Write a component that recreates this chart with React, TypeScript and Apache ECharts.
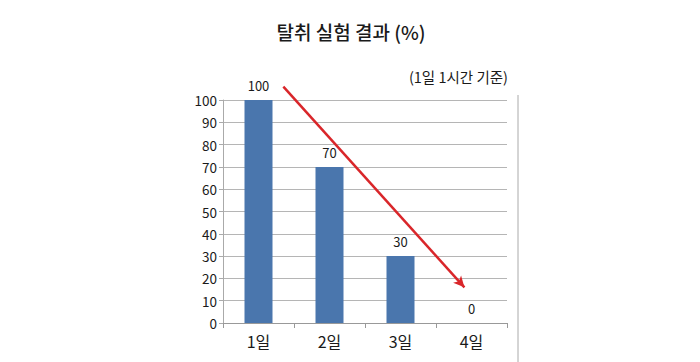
import React, { useEffect, useRef } from "react";
import * as echarts from "echarts";

const categories = ["1일", "2일", "3일", "4일"];
const values = [100, 70, 30, 0];
const yTicks = { min: 0, max: 100, interval: 10 };
const arrowStart = [0.85, 106];
const arrowEnd = [3.4, 16];
const title = "탈취 실험 결과 (%)";
const subtitle = "(1일 1시간 기준)";

const FONT = "'Noto Sans CJK KR', 'Noto Sans', sans-serif";
const RED = "#d9262a";

export default function App() {
  const ref = useRef<HTMLDivElement>(null);
  useEffect(() => {
    const chart = echarts.init(ref.current!, null, { renderer: "svg" });
    const grid = { left: 223, top: 100, right: 193, bottom: 39 };
    chart.setOption({
      animation: false,
      backgroundColor: "#ffffff",
      textStyle: { fontFamily: FONT },
      title: [
        {
          text: title,
          left: 346,
          top: 17,
          textAlign: "center",
          textStyle: { fontSize: 19, fontWeight: 500, color: "#1a1a1a", fontFamily: FONT },
        },
        {
          text: subtitle,
          right: 187,
          top: 64,
          textStyle: { fontSize: 14.5, fontWeight: 400, color: "#1a1a1a", fontFamily: FONT },
        },
      ],
      grid,
      xAxis: [
        {
          type: "category",
          data: categories,
          axisLine: { lineStyle: { color: "#999", width: 1 } },
          axisTick: { show: true, alignWithLabel: false, length: 5, lineStyle: { color: "#999" } },
          axisLabel: { fontSize: 16, color: "#1a1a1a", margin: 10, fontFamily: FONT },
        },
        {
          type: "value",
          min: 0,
          max: 4,
          show: false,
        },
      ],
      yAxis: {
        type: "value",
        min: yTicks.min,
        max: yTicks.max,
        interval: yTicks.interval,
        axisLine: { show: true, lineStyle: { color: "#aaa" } },
        axisTick: { show: true, length: 4, lineStyle: { color: "#aaa" } },
        axisLabel: { fontSize: 13.5, color: "#1a1a1a", margin: 6, fontFamily: FONT },
        splitLine: { lineStyle: { color: "#b5b5b5", width: 1 } },
      },
      series: [
        {
          type: "bar",
          data: values,
          barWidth: 28,
          itemStyle: { color: "#4a76ad" },
          label: {
            show: true,
            position: "top",
            fontSize: 13,
            color: "#1a1a1a",
            distance: 8,
            fontFamily: FONT,
          },
        },
        {
          type: "line",
          xAxisIndex: 1,
          clip: false,
          silent: true,
          showSymbol: true,
          symbol: "none",
          lineStyle: { color: RED, width: 2.5 },
          itemStyle: { color: RED },
          data: [
            { value: arrowStart, symbol: "none" },
            {
              value: arrowEnd,
              symbol: "arrow",
              symbolSize: [8, 11],
              symbolRotate: -138.4,
              itemStyle: { color: RED },
            },
          ],
        },
      ],
      graphic: [
        {
          type: "line",
          shape: { x1: 518, y1: 95, x2: 518, y2: 362 },
          style: { stroke: "#aaa", lineWidth: 1 },
        },
      ],
    });
    return () => chart.dispose();
  }, []);
  return (
    <div
      ref={ref}
      style={{ position: "fixed", left: 0, top: 0, width: 700, height: 362 }}
    />
  );
}
